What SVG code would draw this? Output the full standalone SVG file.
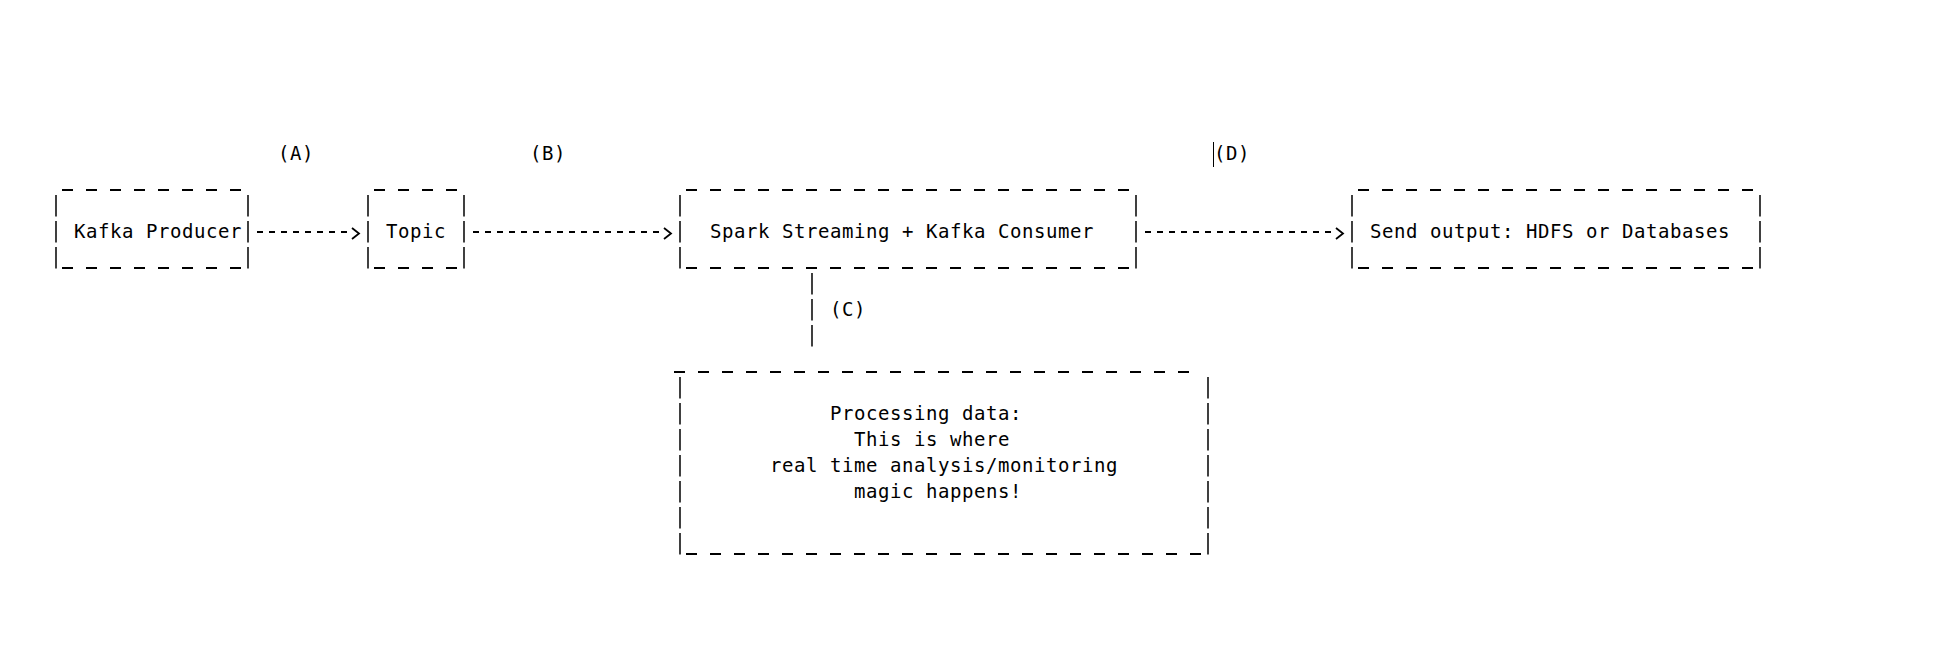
<svg xmlns="http://www.w3.org/2000/svg" width="1960" height="646" viewBox="0 0 1960 646">
  <style>
    .t { font-family: "DejaVu Sans Mono", "Liberation Mono", monospace; font-size: 19px; letter-spacing: 0.56px; fill: #000; }
    .h { stroke: #000; stroke-width: 2; stroke-dasharray: 11 13; fill: none; }
    .v { stroke: #111; stroke-width: 1.6; stroke-dasharray: 21.5 4.5; fill: none; }
    .c { stroke: #000; stroke-width: 1.8; stroke-dasharray: 6 6; fill: none; marker-end: url(#chev); }
    .p { stroke: #111; stroke-width: 1.6; stroke-dasharray: 21.5 4.5; fill: none; }
  </style>
  <defs>
    <marker id="chev" markerUnits="userSpaceOnUse" markerWidth="20" markerHeight="20" viewBox="0 -10 20 20" refX="0" refY="0" orient="auto" overflow="visible">
      <path d="M5,-4 L12,1.5 L5,7" fill="none" stroke="#000" stroke-width="1.8" stroke-dasharray="none"/>
    </marker>
  </defs>
  <rect width="1960" height="646" fill="#fff"/>

  <g id="labels">
    <text class="t" x="278" y="160">(A)</text>
    <text class="t" x="530" y="160">(B)</text>
    <line x1="1213.5" y1="142" x2="1213.5" y2="167" stroke="#000" stroke-width="1"/>
    <text class="t" x="1214" y="160">(D)</text>
  </g>

  <g id="kafka-producer">
    <line class="h" x1="62" y1="190" x2="241" y2="190"/>
    <line class="h" x1="62" y1="268" x2="241" y2="268"/>
    <line class="v" x1="56" y1="195" x2="56" y2="268.5"/>
    <line class="v" x1="248" y1="195" x2="248" y2="268.5"/>
    <text class="t" x="74" y="238">Kafka Producer</text>
  </g>

  <g id="topic">
    <line class="h" x1="374" y1="190" x2="457" y2="190"/>
    <line class="h" x1="374" y1="268" x2="457" y2="268"/>
    <line class="v" x1="368" y1="195" x2="368" y2="268.5"/>
    <line class="v" x1="464" y1="195" x2="464" y2="268.5"/>
    <text class="t" x="386" y="238">Topic</text>
  </g>

  <g id="spark-consumer">
    <line class="h" x1="686" y1="190" x2="1129" y2="190"/>
    <line class="h" x1="686" y1="268" x2="1129" y2="268"/>
    <line class="v" x1="680" y1="195" x2="680" y2="268.5"/>
    <line class="v" x1="1136" y1="195" x2="1136" y2="268.5"/>
    <text class="t" x="710" y="238">Spark Streaming + Kafka Consumer</text>
  </g>

  <g id="send-output">
    <line class="h" x1="1358" y1="190" x2="1753" y2="190"/>
    <line class="h" x1="1358" y1="268" x2="1753" y2="268"/>
    <line class="v" x1="1352" y1="195" x2="1352" y2="268.5"/>
    <line class="v" x1="1760" y1="195" x2="1760" y2="268.5"/>
    <text class="t" x="1370" y="238">Send output: HDFS or Databases</text>
  </g>

  <g id="processing">
    <line class="h" x1="674" y1="372" x2="1189" y2="372"/>
    <line class="h" x1="686" y1="554" x2="1201" y2="554"/>
    <line class="v" x1="680" y1="377" x2="680" y2="554.5"/>
    <line class="v" x1="1208" y1="377" x2="1208" y2="554.5"/>
    <text class="t" x="830" y="420">Processing data:</text>
    <text class="t" x="854" y="446">This is where</text>
    <text class="t" x="770" y="472">real time analysis/monitoring</text>
    <text class="t" x="854" y="498">magic happens!</text>
  </g>

  <g id="connectors">
    <line class="c" x1="257" y1="232" x2="347" y2="232"/>
    <line class="c" x1="473" y1="232" x2="659" y2="232"/>
    <line class="c" x1="1145" y1="232" x2="1331" y2="232"/>
    <line class="p" x1="812" y1="273" x2="812" y2="346.5"/>
    <text class="t" x="830" y="316">(C)</text>
  </g>
</svg>
